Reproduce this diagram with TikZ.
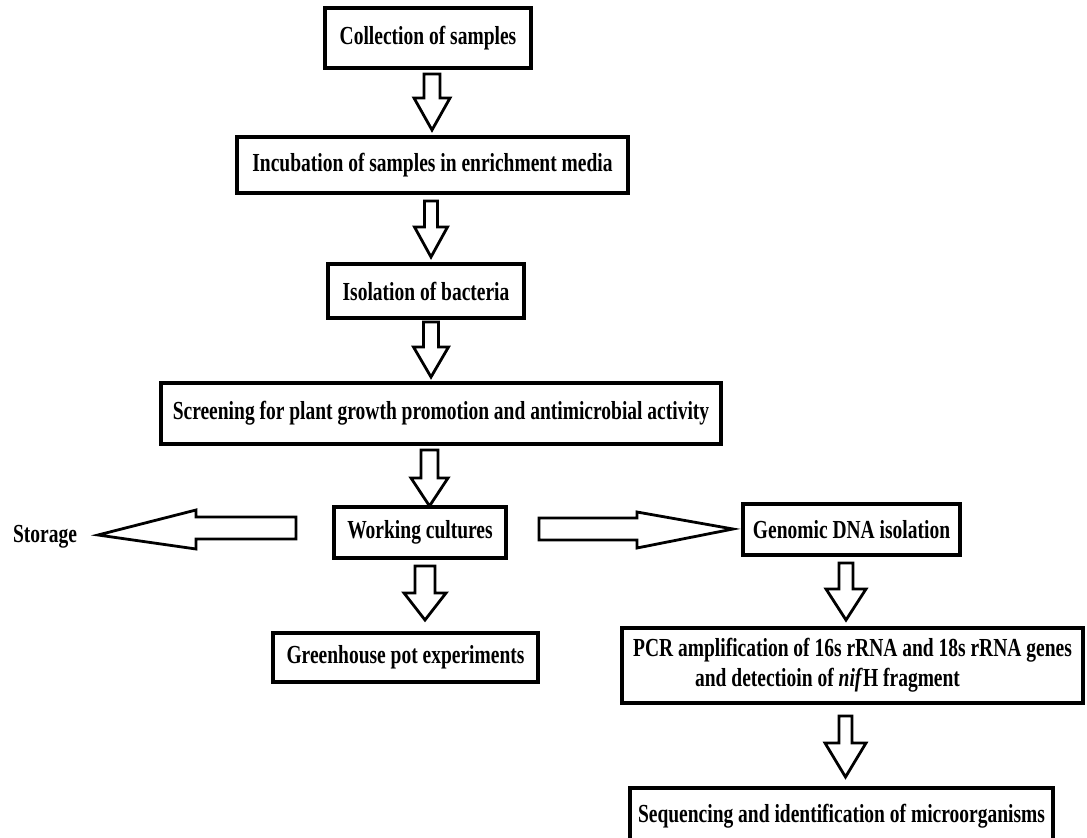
\documentclass[tikz,border=0pt]{standalone}
\usepackage{fontspec}
\setmainfont{Liberation Serif}[FakeStretch=0.75]
\tikzset{
  box/.style={draw, line width=3.5pt, inner sep=0pt, fill=white,
    font=\fontsize{26}{30}\selectfont\bfseries, align=center},
  plain/.style={inner sep=0pt, font=\fontsize{26}{30}\selectfont\bfseries},
  blk/.style={draw, line width=2.8pt, fill=white, line join=miter},
}
\newcommand\dnarr[6]{%
  \draw[blk] ({#1-#5},#2) -- ({#1+#5},#2) -- ({#1+#5},#3) -- ({#1+#6},#3)
    -- (#1,#4) -- ({#1-#6},#3) -- ({#1-#5},#3) -- cycle;}
\begin{document}
\begin{tikzpicture}[x=1pt,y=-1pt]
\useasboundingbox (0,0) rectangle (1087,838);
\fill[white] (0,0) rectangle (1087,838);

% nodes
\node[box, minimum width=206pt, minimum height=60pt] (collect) at (428,38) {Collection of samples};
\node[box, minimum width=391pt, minimum height=56pt] (incub) at (432.5,165) {Incubation of samples in enrichment media};
\node[box, minimum width=196pt, minimum height=54pt] (isol) at (426,291) {Isolation of bacteria};
\node[box, minimum width=560pt, minimum height=61pt] (screen) at (441,413.5) {Screening for plant growth promotion and antimicrobial activity};
\node[box, minimum width=172pt, minimum height=51pt] (work) at (420,532.5) {Working cultures};
\node[box, minimum width=265pt, minimum height=49pt] (green) at (405.5,657.5) {Greenhouse pot experiments};
\node[plain] (storage) at (45,537) {Storage};
\node[box, minimum width=217pt, minimum height=51pt] (dna) at (851.5,529.5) {Genomic DNA isolation};
\node[box, minimum width=461pt, minimum height=75pt, align=left] (pcr) at (852.5,665.5)
  {PCR amplification of 16s rRNA and 18s rRNA genes\\\hspace*{62pt}and detectioin of \textit{nif}H fragment};
\node[box, minimum width=423pt, minimum height=56pt] (seq) at (841.5,816) {Sequencing and identification of microorganisms};

% down block arrows: cx, top, head start, tip, shaft half, head half
\dnarr{432}{74}{98}{130}{8}{18}
\dnarr{431}{201}{227}{257}{6.5}{16.5}
\dnarr{431}{322}{347}{377}{7.5}{17.5}
\dnarr{429.5}{450}{478}{506}{8.5}{18.5}
\dnarr{425}{566}{593}{620}{10}{21}
\dnarr{846}{563}{589}{620}{7}{20}
\dnarr{845.5}{716}{743}{777}{6.5}{20.5}

% storage arrow (leftwards)
\draw[blk] (296,517) -- (196,517) -- (196,510) -- (98,535) -- (196,549) -- (196,539) -- (296,539) -- cycle;
% genomic arrow (rightwards)
\draw[blk] (539,518) -- (637,518) -- (637,512) -- (733,529) -- (637,548) -- (637,540) -- (539,540) -- cycle;
\end{tikzpicture}
\end{document}
